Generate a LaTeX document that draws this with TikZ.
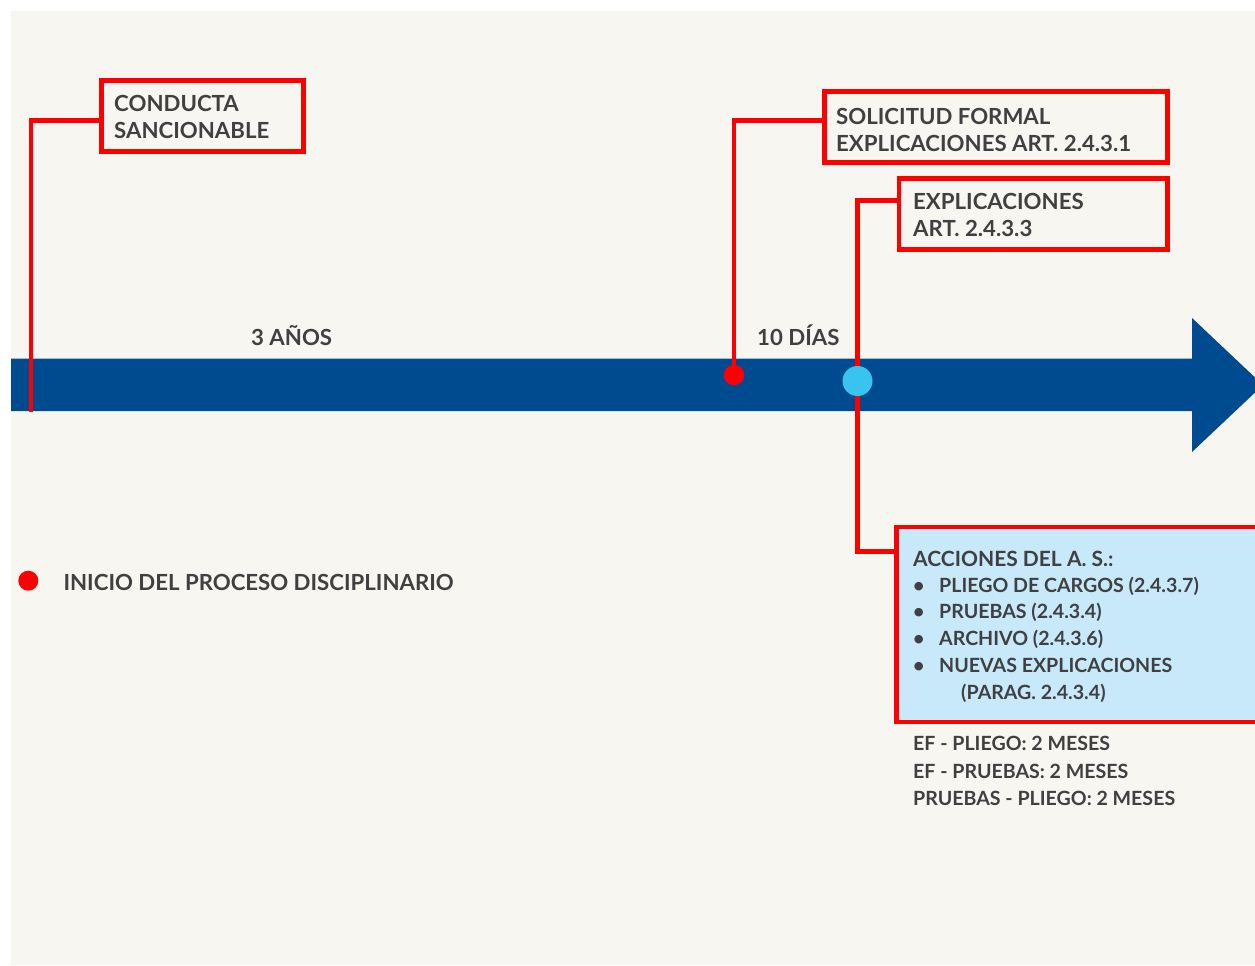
\documentclass[tikz,border=0pt]{standalone}
\usepackage{fontspec}
\setmainfont{Lato}
\usetikzlibrary{positioning}

\definecolor{cream}{RGB}{247,246,240}
\definecolor{bandblue}{RGB}{0,74,143}
\definecolor{dotcyan}{RGB}{55,197,240}
\definecolor{boxblue}{RGB}{199,233,249}
\definecolor{txtgray}{RGB}{64,64,66}

\newcommand\bigtxt{\fontsize{22.2}{27}\selectfont\bfseries}
\newcommand\smalltxt{\fontsize{19.6}{26.75}\selectfont\bfseries}

\begin{document}
\begin{tikzpicture}[x=1pt,y=-1pt,
    redbox/.style={draw=red,line width=4.8pt,inner sep=0pt},
    redline/.style={draw=red,line width=4.8pt},
    lbl/.style={anchor=base west,inner sep=0pt,align=left,text=txtgray,font=\bigtxt},
    small lbl/.style={lbl,font=\smalltxt},
    dot/.style={circle,fill=#1,inner sep=0pt}]

  \useasboundingbox (0,0) rectangle (1255,966);
  \clip (0,0) rectangle (1255,966);
  \fill[cream] (11,11) rectangle (1255,965);

  % time axis
  \fill[bandblue] (11,358.5) rectangle (1192,411)
    (1192,318) -- (1263,385) -- (1192,452) -- cycle;

  % boxes
  \node[redbox,minimum width=202pt,minimum height=71pt] (conducta) at (202.5,116) {};
  \node[redbox,minimum width=343.2pt,minimum height=71pt] (solicitud) at (996,127.2) {};
  \node[redbox,minimum width=268.7pt,minimum height=71.2pt] (explic) at (1033.3,213.7) {};
  \node[redbox,fill=boxblue,minimum width=403.3pt,minimum height=195pt] (acciones) at (1098.4,624.5) {};

  % texts (base = last line)
  \node[lbl] (conductatxt) at (114,138.7) {CONDUCTA\\SANCIONABLE};
  \node[lbl] (solicitudtxt) at (836,151) {SOLICITUD FORMAL\\EXPLICACIONES ART. 2.4.3.1};
  \node[lbl] (explictxt) at (913,236.7) {EXPLICACIONES\\ART. 2.4.3.3};
  \node[lbl,font=\fontsize{21}{27}\selectfont\bfseries] (accionestxt) at (913,566) {ACCIONES DEL A. S.:};
  \node[small lbl] (lista) at (913,699) {\makebox[26pt][l]{•}PLIEGO DE CARGOS (2.4.3.7)\\
    \makebox[26pt][l]{•}PRUEBAS (2.4.3.4)\\
    \makebox[26pt][l]{•}ARCHIVO (2.4.3.6)\\
    \makebox[26pt][l]{•}NUEVAS EXPLICACIONES\\
    \hspace*{48pt}(PARAG. 2.4.3.4)};
  \node[small lbl,font=\fontsize{19.6}{27.5}\selectfont\bfseries] (plazos) at (913,805.7)
    {EF - PLIEGO: 2 MESES\\EF - PRUEBAS: 2 MESES\\PRUEBAS - PLIEGO: 2 MESES};

  \node[lbl] (anos) at (251,345.7) {3 AÑOS};
  \node[lbl] (dias) at (757,345.7) {10 DÍAS};

  % connectors
  \coordinate (inicio) at (31,412);
  \coordinate (pto1) at (734,375);
  \coordinate (pto2) at (857.5,381);
  \draw[redline] ([yshift=-4.5pt]conducta.west) -| (inicio);
  \draw[redline] ([yshift=7pt]solicitud.west) -| (pto1);
  \draw[redline] ([yshift=13pt]explic.west) -| (pto2)
    |- ([yshift=73pt]acciones.west);

  \node[dot=red,minimum size=20.5pt] (dot1) at (pto1) {};
  \node[dot=dotcyan,minimum size=30pt] (dot2) at (pto2) {};

  % legend
  \node[dot=red,minimum size=20pt] (leyenda) at (28.3,580.7) {};
  \node[lbl] (leyendatxt) at (63.3,590.7) {INICIO DEL PROCESO DISCIPLINARIO};
\end{tikzpicture}
\end{document}
